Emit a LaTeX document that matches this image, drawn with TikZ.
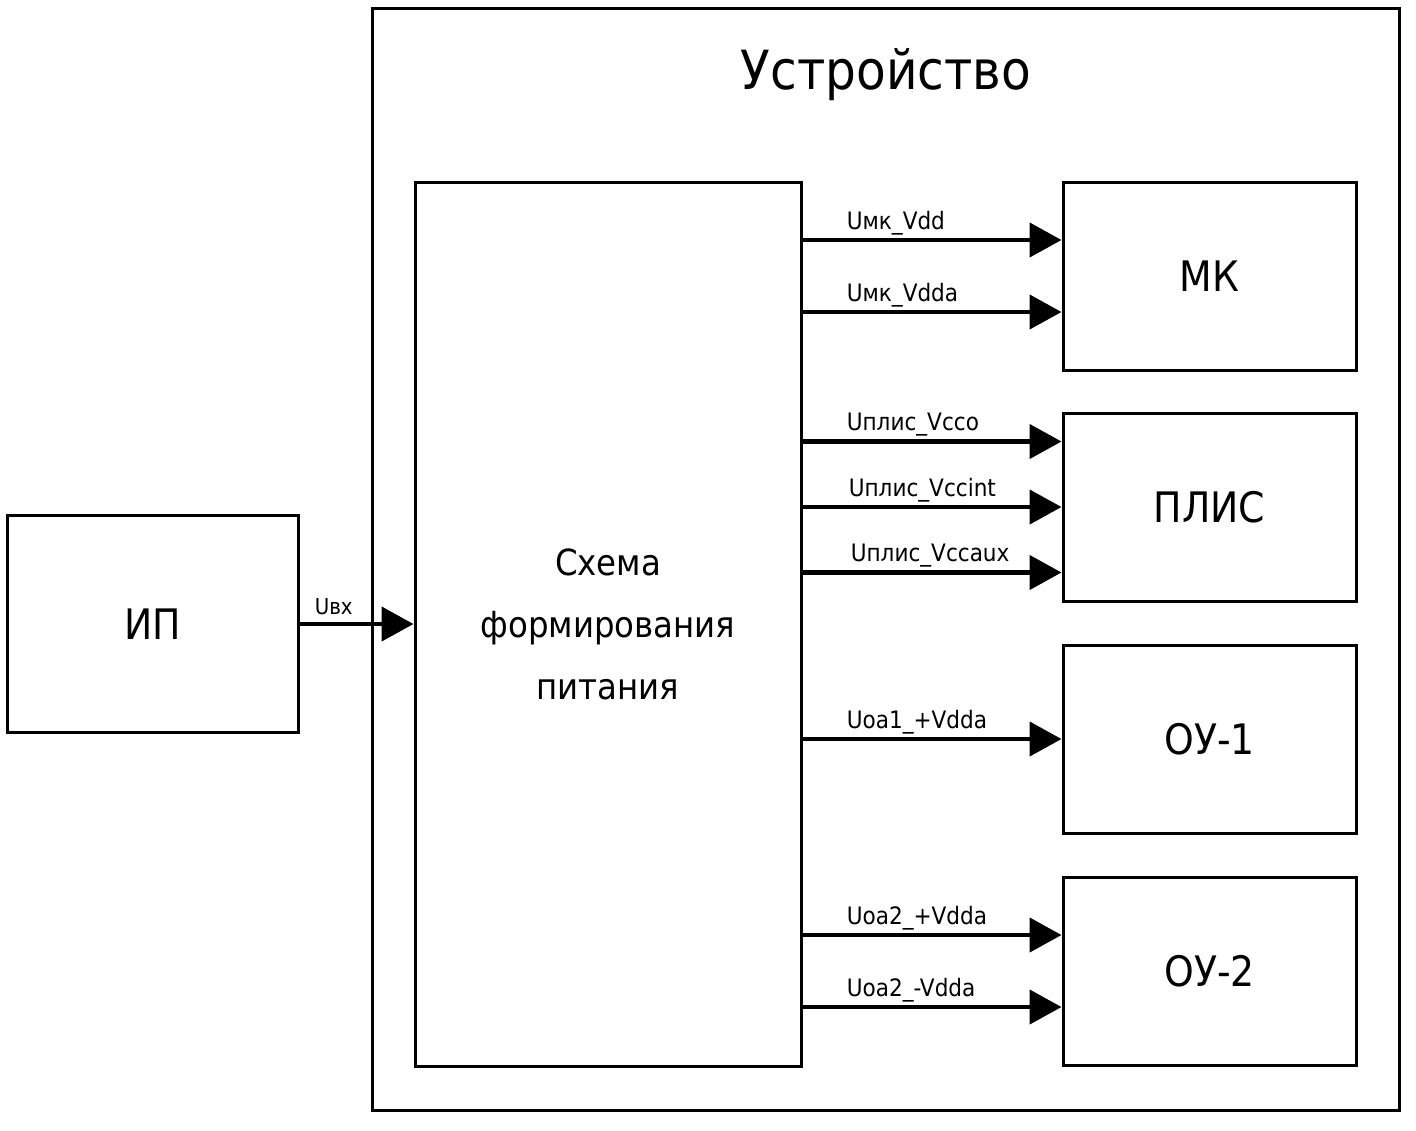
\documentclass[tikz,border=0pt]{standalone}
\usepackage{fontspec}
\setmainfont{DejaVu Sans Condensed}
\usepackage{tikz}
\usetikzlibrary{arrows.meta,positioning,calc}

\begin{document}
\begin{tikzpicture}[x=0.5pt,y=-0.5pt,>={Triangle[length=16pt,width=17pt]},
	box/.style={draw,line width=1.5pt,minimum width=146.5pt,minimum height=94pt,font=\fontsize{21}{25}\selectfont},
	sig/.style={->,line width=2.3pt},
	lbl/.style={pos=0,anchor=base west,inner sep=0pt,xshift=21pt,yshift=5.5pt,font=\fontsize{12}{14}\selectfont}]
\useasboundingbox (0,0) rectangle (1416,1130);

\node	[draw,line width=1.5pt,minimum width=513.5pt,minimum height=551pt]	(dev)	at (885.5,559)	{};
\node	[font=\fontsize{27}{32}\selectfont]	(title)	at (886,75)	{Устройство};
\node	[draw,line width=1.5pt,minimum width=193pt,minimum height=442pt,align=center,font=\fontsize{18}{31}\selectfont]	(sfp)	at (608,624)	{Схема\\формирования\\питания};
\node	[box]	(mk)	[below right=0pt and 129.5pt of sfp.north east]	{МК};
\node	[box]	(plis)	[below=20pt of mk]	{ПЛИС};
\node	[box]	(ou1)	[below=20.5pt of plis]	{ОУ-1};
\node	[box]	(ou2)	[below=20.5pt of ou1]	{ОУ-2};
\node	[box,minimum width=145.5pt,minimum height=108.5pt]	(ip)	[left=57pt of sfp]	{ИП};

\coordinate	(mk1)	at ($(mk.west)+(0,-36)$);
\coordinate	(mk2)	at ($(mk.west)+(0,36)$);
\coordinate	(plis1)	at ($(plis.west)+(0,-65.5)$);
\coordinate	(plis2)	at (plis.west);
\coordinate	(plis3)	at ($(plis.west)+(0,65.5)$);
\coordinate	(ou11)	at (ou1.west);
\coordinate	(ou21)	at ($(ou2.west)+(0,-36)$);
\coordinate	(ou22)	at ($(ou2.west)+(0,36)$);

\path[sig]
	(ip)			edge	node	[lbl,xshift=-14.5pt,yshift=-0.5pt,font=\fontsize{11}{13}\selectfont]	{Uвх}	(sfp)
	(mk1 -| sfp.east)	edge	node	[lbl]	{Uмк\_Vdd}	(mk1)
	(mk2 -| sfp.east)	edge	node	[lbl]	{Uмк\_Vdda}	(mk2)
	(plis1 -| sfp.east)	edge	node	[lbl]	{Uплис\_Vcco}	(plis1)
	(plis2 -| sfp.east)	edge	node	[lbl,xshift=1pt]	{Uплис\_Vccint}	(plis2)
	(plis3 -| sfp.east)	edge	node	[lbl,xshift=2pt]	{Uплис\_Vccaux}	(plis3)
	(ou11 -| sfp.east)	edge	node	[lbl]	{Uoa1\_+Vdda}	(ou11)
	(ou21 -| sfp.east)	edge	node	[lbl]	{Uoa2\_+Vdda}	(ou21)
	(ou22 -| sfp.east)	edge	node	[lbl]	{Uoa2\_-Vdda}	(ou22)
;
\end{tikzpicture}
\end{document}
